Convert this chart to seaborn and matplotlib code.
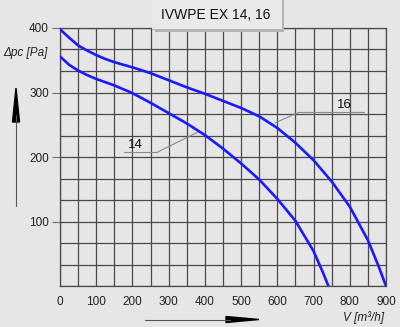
import numpy as np
import pandas as pd
import matplotlib
matplotlib.use("Agg")
import matplotlib.pyplot as plt
from matplotlib.patches import Rectangle
import seaborn as sns

# Fan performance curves: static pressure vs air flow
flow_14 = [0, 25, 50, 75, 100, 125, 150, 200, 250, 300, 350, 400, 450, 500, 550, 600, 650, 700, 725, 741]
pressure_14 = [356, 343, 334, 327, 321, 316, 311, 299, 284, 268, 252, 234, 213, 190, 165, 135, 101, 54, 22, 0]

flow_16 = [0, 25, 50, 75, 100, 125, 150, 200, 250, 300, 350, 400, 450, 500, 550, 600, 650, 700, 750, 800, 850, 880, 900]
pressure_16 = [398, 385, 373, 365, 358, 352, 347, 339, 330, 319, 308, 298, 287, 276, 263, 245, 222, 195, 162, 123, 71, 30, 0]

x_ticks = [0, 100, 200, 300, 400, 500, 600, 700, 800, 900]
y_ticks = [100, 200, 300, 400]

title_text = "IVWPE EX 14, 16"
y_label = "Δpc [Pa]"
x_label = "V [m³/h]"

df = pd.concat([
    pd.DataFrame({"flow": flow_14, "pressure": pressure_14, "model": "14"}),
    pd.DataFrame({"flow": flow_16, "pressure": pressure_16, "model": "16"}),
])

bg = "#e6e6e6"
grid_col = "#4a4a4a"
curve_col = "#1a1aff"

sns.set_theme(style="white")
plt.rcParams["font.family"] = ["Liberation Sans", "DejaVu Sans"]

W, H = 400, 327
fig = plt.figure(figsize=(W / 100, H / 100), dpi=100, facecolor=bg)
ax = fig.add_axes([60 / W, 1 - 286 / H, 326 / W, 258 / H])
ax.set_facecolor(bg)

sns.lineplot(data=df, x="flow", y="pressure", hue="model", units="model",
             estimator=None, sort=False, palette=[curve_col, curve_col],
             linewidth=1.9, legend=False, ax=ax, zorder=3)

ax.set_xlim(0, 900)
ax.set_ylim(0, 400)
ax.set_xticks(x_ticks)
ax.set_xticks(np.arange(0, 901, 50), minor=True)
ax.set_yticks(y_ticks)
ax.set_yticks(np.arange(0, 401, 100 / 3), minor=True)
ax.grid(True, which="both", color=grid_col, linewidth=0.9)
ax.set_axisbelow(True)
for s in ax.spines.values():
    s.set_color(grid_col)
    s.set_linewidth(0.9)

ax.tick_params(axis="x", which="both", length=0, pad=7, labelsize=8.5, labelcolor="#222222")
ax.tick_params(axis="y", which="major", length=6, width=0.9, color="#777777",
               pad=2, labelsize=8.5, labelcolor="#222222", left=True)
ax.tick_params(axis="y", which="minor", length=0)
ax.set_xticklabels([str(v) for v in x_ticks])
ax.set_yticklabels([str(v) for v in y_ticks])
ax.set_xlabel("")
ax.set_ylabel("")

# Curve labels with leader lines
lead = dict(color="#8a8a8a", linewidth=0.8, zorder=2, clip_on=False)
ax.plot([658, 840], [269, 269], **lead)
ax.plot([658, 594], [269, 253], **lead)
ax.text(784, 280, "16", fontsize=9.5, ha="center", va="center", color="#111111")
ax.plot([177, 267], [207, 207], **lead)
ax.plot([267, 382], [207, 239], **lead)
ax.text(207, 219, "14", fontsize=9.5, ha="center", va="center", color="#111111")

# Axis captions with direction arrows
fig.text(3 / W, 1 - 53 / H, y_label, fontsize=8.5, style="italic",
         ha="left", va="center", color="#222222")
fig.text(384 / W, 1 - 318 / H, x_label, fontsize=8.5, style="italic",
         ha="right", va="center", color="#222222")
fig.add_artist(plt.Line2D([16 / W, 16 / W], [1 - 206 / H, 1 - 115 / H],
                          color="#555555", linewidth=0.8))
fig.add_artist(plt.Polygon([[12.5 / W, 1 - 122 / H], [19.5 / W, 1 - 122 / H],
                            [16 / W, 1 - 88 / H]], closed=True, color="black"))
fig.add_artist(plt.Line2D([145 / W, 230 / W], [1 - 319.5 / H, 1 - 319.5 / H],
                          color="#555555", linewidth=0.8))
fig.add_artist(plt.Polygon([[226 / W, 1 - 316.5 / H], [226 / W, 1 - 322.5 / H],
                            [259 / W, 1 - 319.5 / H]], closed=True, color="black"))

# Title box with a drop shadow
fig.add_artist(Rectangle((155 / W, 1 - 31.5 / H), 129 / W, 32 / H,
                         transform=fig.transFigure, facecolor="#b4b4b4",
                         edgecolor="none", zorder=5))
fig.add_artist(Rectangle((152 / W, 1 - 28.5 / H), 129.5 / W, 29 / H,
                         transform=fig.transFigure, facecolor="#e9e9e9",
                         edgecolor="none", zorder=6))
fig.text(216 / W, 1 - 15 / H, title_text, fontsize=10, ha="center", va="center",
         color="#111111", zorder=7)

fig.savefig("out.png", dpi=100, facecolor=bg)
